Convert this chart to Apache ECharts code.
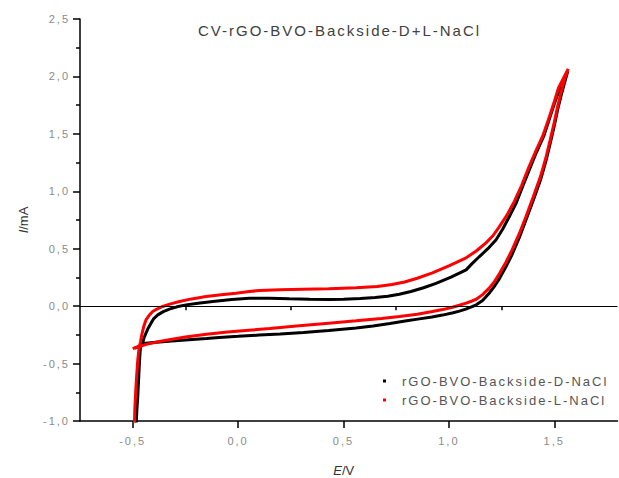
<!DOCTYPE html>
<html>
<head>
<meta charset="utf-8">
<script src="https://cdn.jsdelivr.net/npm/echarts@6/dist/echarts.min.js"></script>
<style>
  html, body { margin: 0; padding: 0; background: #fff; }
  #chart { width: 619px; height: 478px; }
  #chart svg text { letter-spacing: 2px; }
</style>
</head>
<body>
<div id="chart"></div>
<script>
// ---- data ----
const titleText = 'CV-rGO-BVO-Backside-D+L-NaCl';
const seriesNames = ['rGO-BVO-Backside-D-NaCl', 'rGO-BVO-Backside-L-NaCl'];

const xTickValues = [-0.5, 0, 0.5, 1.0, 1.5];
const xTickLabels = ['-0,5', '0,0', '0,5', '1,0', '1,5'];
const xMinorTickValues = [-0.25, 0.25, 0.75, 1.25];
const yTickValues = [-1.0, -0.5, 0, 0.5, 1.0, 1.5, 2.0, 2.5];
const yTickLabels = ['-1,0', '-0,5', '0,0', '0,5', '1,0', '1,5', '2,0', '2,5'];

// D-NaCl (black): start transient, forward scan, return scan
const curveD = [
  [-0.484,-1.05],[-0.480,-0.90],[-0.476,-0.79],[-0.472,-0.64],[-0.468,-0.49],[-0.465,-0.40],[-0.462,-0.34],
  [-0.45,-0.325],[-0.40,-0.316],[-0.33,-0.305],[-0.25,-0.294],[-0.15,-0.281],[-0.09,-0.272],[0.0,-0.263],
  [0.10,-0.252],[0.20,-0.243],[0.31,-0.230],[0.43,-0.212],[0.56,-0.190],[0.64,-0.173],[0.72,-0.152],[0.80,-0.128],
  [0.86,-0.111],[0.92,-0.094],[0.97,-0.078],[1.02,-0.058],[1.05,-0.043],[1.08,-0.026],[1.11,-0.005],
  [1.13,0.012],[1.16,0.05],[1.19,0.11],[1.215,0.17],[1.24,0.24],[1.27,0.34],[1.30,0.45],[1.335,0.60],
  [1.366,0.752],[1.40,0.92],[1.435,1.10],[1.46,1.26],[1.481,1.42],[1.50,1.57],[1.516,1.71],[1.532,1.83],
  [1.548,1.94],[1.564,2.045],
  [1.545,1.97],[1.524,1.884],[1.50,1.76],[1.481,1.652],[1.45,1.48],[1.414,1.333],[1.38,1.18],[1.35,1.042],
  [1.32,0.90],[1.287,0.78],[1.255,0.67],[1.224,0.578],[1.185,0.50],[1.145,0.432],[1.11,0.37],[1.082,0.316],
  [1.01,0.252],[0.939,0.198],[0.88,0.16],[0.82,0.127],[0.765,0.103],[0.71,0.087],[0.65,0.076],[0.58,0.067],
  [0.50,0.060],[0.433,0.057],
  [0.34,0.060],[0.243,0.064],[0.15,0.068],[0.053,0.068],[-0.03,0.058],[-0.12,0.04],[-0.19,0.026],
  [-0.247,0.011],[-0.29,-0.006],[-0.326,-0.026],[-0.355,-0.048],[-0.381,-0.076],[-0.40,-0.108],
  [-0.413,-0.148],[-0.426,-0.19],[-0.437,-0.235],[-0.447,-0.28],[-0.453,-0.322],[-0.47,-0.35],[-0.49,-0.365]
];

// L-NaCl (red)
const curveL = [
  [-0.492,-1.05],[-0.490,-0.90],[-0.486,-0.75],[-0.481,-0.60],[-0.476,-0.47],[-0.470,-0.37],[-0.466,-0.352],
  [-0.44,-0.335],[-0.38,-0.31],[-0.32,-0.29],[-0.25,-0.268],[-0.15,-0.245],[-0.05,-0.225],[0.05,-0.21],
  [0.15,-0.195],[0.29,-0.170],[0.43,-0.148],[0.56,-0.128],[0.68,-0.108],[0.765,-0.09],[0.85,-0.07],
  [0.922,-0.047],[0.97,-0.03],[1.017,-0.01],[1.05,0.008],[1.082,0.026],[1.11,0.045],[1.13,0.06],
  [1.16,0.10],[1.19,0.155],[1.215,0.21],[1.24,0.285],[1.27,0.38],[1.30,0.49],[1.335,0.635],[1.366,0.78],
  [1.40,0.95],[1.435,1.13],[1.46,1.29],[1.481,1.45],[1.50,1.60],[1.516,1.74],[1.532,1.86],[1.548,1.97],
  [1.566,2.065],
  [1.52,1.90],[1.50,1.78],[1.478,1.655],[1.445,1.48],[1.41,1.34],[1.375,1.19],[1.345,1.05],[1.31,0.91],
  [1.275,0.79],[1.239,0.69],[1.21,0.615],[1.176,0.551],[1.13,0.48],[1.082,0.421],[1.0,0.35],[0.922,0.29],
  [0.85,0.243],[0.79,0.21],[0.73,0.188],[0.66,0.172],[0.56,0.160],[0.43,0.152],[0.307,0.148],[0.2,0.142],[0.101,0.136],
  [0.053,0.127],[-0.01,0.113],[-0.08,0.10],[-0.152,0.084],[-0.22,0.063],[-0.278,0.04],[-0.32,0.02],
  [-0.358,-0.003],[-0.385,-0.025],[-0.405,-0.047],[-0.422,-0.08],[-0.437,-0.12],[-0.448,-0.18],
  [-0.457,-0.25],[-0.463,-0.31],[-0.468,-0.35],[-0.485,-0.36],[-0.50,-0.37]
];

// ---- chart ----
function lookup(values, labels, v) {
  const i = values.findIndex(t => Math.abs(t - v) < 1e-9);
  return i >= 0 ? labels[i] : '';
}
const FONT = 'Liberation Sans, Arial, sans-serif';
const chart = echarts.init(document.getElementById('chart'), null, { renderer: 'svg' });
chart.setOption({
  animation: false,
  backgroundColor: '#fff',
  title: {
    text: titleText,
    left: 193, top: 18,
    textStyle: { fontFamily: FONT, fontSize: 15, fontWeight: 'normal', color: '#404040' }
  },
  grid: { left: 80, right: 1.5, top: 19, bottom: 57, containLabel: false, outerBoundsMode: 'none' },
  legend: {
    orient: 'vertical', left: 378, top: 369,
    itemWidth: 3, itemHeight: 3, itemGap: 5, icon: 'rect',
    textStyle: { fontFamily: FONT, fontSize: 13, color: '#555', lineHeight: 14, padding: [0, 0, 0, 11] },
    data: seriesNames
  },
  xAxis: [{
    type: 'value', min: -0.75, max: 1.8, position: 'bottom',
    axisLine: { show: true, onZero: false, lineStyle: { color: '#000', width: 1.5 } },
    axisTick: { show: true, customValues: xTickValues, length: 7, lineStyle: { color: '#000', width: 1.5 } },
    axisLabel: { customValues: xTickValues, margin: 14, fontFamily: FONT, fontSize: 11, color: '#8a8a8a',
      formatter: v => lookup(xTickValues, xTickLabels, v) },
    splitLine: { show: false },
    name: '{i|E}/V', nameLocation: 'middle', nameGap: 43,
    nameTextStyle: { fontFamily: FONT, fontSize: 13, color: '#333', padding: [0, 10, 0, 0],
      rich: { i: { fontFamily: FONT, fontSize: 13, color: '#333', fontStyle: 'italic' } } }
  }, {
    type: 'value', min: -0.75, max: 1.8, position: 'bottom',
    axisLine: { show: false },
    axisTick: { show: true, customValues: xMinorTickValues, length: 4, lineStyle: { color: '#000', width: 1.5 } },
    axisLabel: { show: false },
    splitLine: { show: false }
  }],
  yAxis: {
    type: 'value', min: -1, max: 2.5, interval: 0.5,
    axisLine: { show: true, onZero: false, lineStyle: { color: '#000', width: 1.5 } },
    axisTick: { show: true, length: 7, lineStyle: { color: '#000', width: 1.5 } },
    minorTick: { show: true, splitNumber: 2, length: 4, lineStyle: { color: '#000', width: 1.5 } },
    axisLabel: { margin: 10, fontFamily: FONT, fontSize: 11, color: '#8a8a8a',
      formatter: v => lookup(yTickValues, yTickLabels, v) },
    splitLine: { show: false },
    name: '{i|I}/mA', nameLocation: 'middle', nameGap: 50,
    nameTextStyle: { fontFamily: FONT, fontSize: 13, color: '#333',
      rich: { i: { fontFamily: FONT, fontSize: 13, color: '#333', fontStyle: 'italic' } } }
  },
  series: [{
    name: seriesNames[0], type: 'line', data: curveD, showSymbol: false, symbol: 'rect',
    itemStyle: { color: '#000' }, lineStyle: { color: '#000', width: 3 },
    markLine: { silent: true, symbol: ['none', 'none'], label: { show: false },
      lineStyle: { color: '#000', width: 1, type: 'solid' }, data: [{ yAxis: 0 }] }
  }, {
    name: seriesNames[1], type: 'line', data: curveL, showSymbol: false, symbol: 'rect',
    itemStyle: { color: '#ff0000' }, lineStyle: { color: '#ff0000', width: 3 }
  }]
});
// rich-text axis names are laid out piece by piece: keep them without extra spacing
function fixNameSpacing() {
  document.querySelectorAll('#chart svg text').forEach(t => {
    const s = t.textContent;
    if (s === 'I' || s === '/mA' || s === 'E' || s === '/V') t.style.letterSpacing = '0px';
  });
}
fixNameSpacing();
chart.on('finished', fixNameSpacing);
</script>
</body>
</html>
